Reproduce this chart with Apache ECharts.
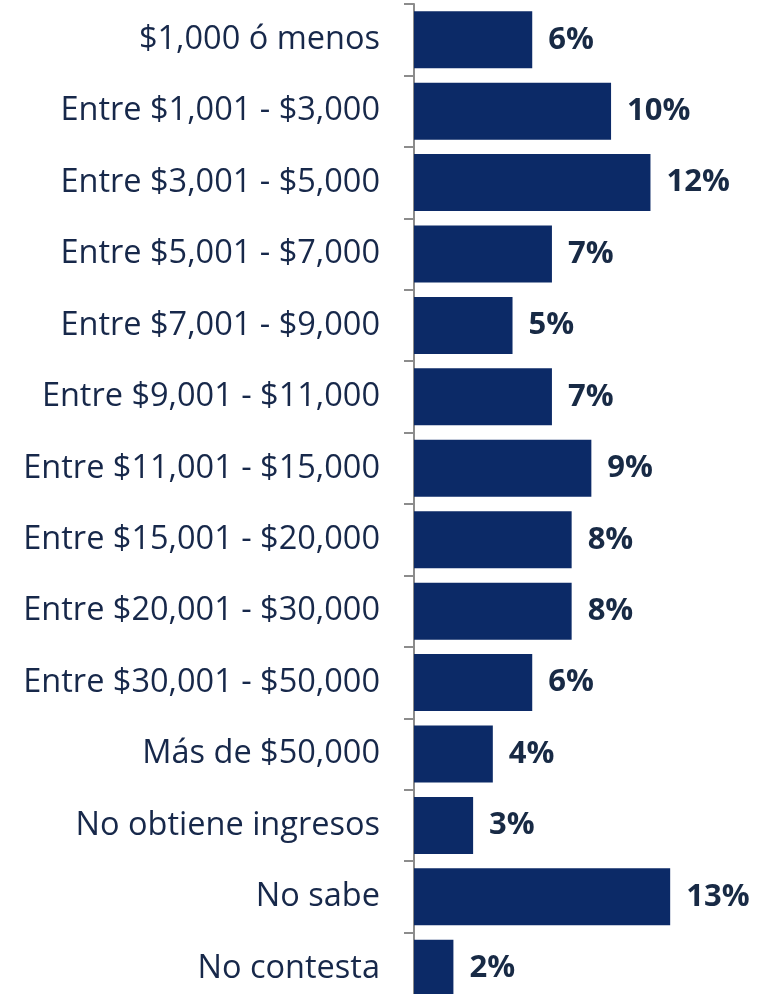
<html>
<head>
  <meta charset="utf-8">
  <title>ingresos</title>
  <script type="text/javascript" src="https://cdn.jsdelivr.net/npm/echarts@6/dist/echarts.min.js"></script>
</head>
<body style="margin:0; background:#ffffff;">
<div id="chartmain" style="width:760px; height:994px;"></div>
<script type="text/javascript">
  // categorias de ingreso (de arriba hacia abajo)
  let categorias = ['$1,000 ó menos', 'Entre $1,001 - $3,000', 'Entre $3,001 - $5,000',
    'Entre $5,001 - $7,000', 'Entre $7,001 - $9,000', 'Entre $9,001 - $11,000',
    'Entre $11,001 - $15,000', 'Entre $15,001 - $20,000', 'Entre $20,001 - $30,000',
    'Entre $30,001 - $50,000', 'Más de $50,000', 'No obtiene ingresos', 'No sabe', 'No contesta'];
  let porcentajes = [6, 10, 12, 7, 5, 7, 9, 8, 8, 6, 4, 3, 13, 2];

  let myChart = echarts.init(document.getElementById('chartmain'));
  let option = {
    animation: false,
    grid: { left: 414, top: 4, width: 335, height: 1000, containLabel: false, outerBoundsMode: 'none' },
    xAxis: {
      type: 'value', min: 0, max: 17, show: false
    },
    yAxis: {
      type: 'category',
      inverse: true,
      data: categorias,
      axisLine: { show: true, lineStyle: { color: '#8c8c8c', width: 2 } },
      axisTick: { show: true, length: 10, lineStyle: { color: '#8c8c8c', width: 2 } },
      axisLabel: {
        color: '#17284a', fontSize: 32.5, margin: 34,
        fontFamily: 'Open Sans'
      }
    },
    series: [{
      type: 'bar',
      data: porcentajes,
      barWidth: 57,
      itemStyle: { color: '#0c2a67' },
      label: {
        show: true, position: 'right', distance: 16,
        formatter: '{c}%',
        color: '#182a45', fontSize: 31, fontWeight: 'bold',
        fontFamily: 'Open Sans'
      }
    }]
  };
  myChart.setOption(option);
</script>
</body>
</html>
